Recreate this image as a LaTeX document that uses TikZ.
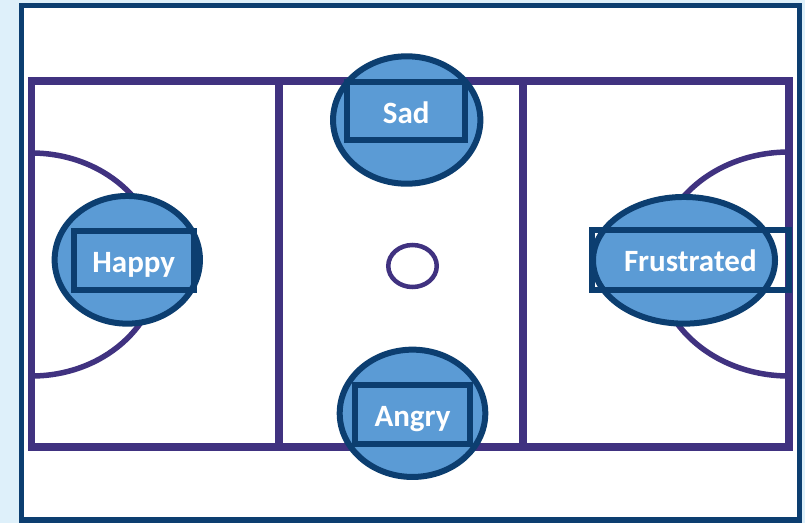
\documentclass[tikz,border=0pt]{standalone}
\usepackage{fontspec}
\setmainfont{Carlito}
\usetikzlibrary{shapes.geometric}
\definecolor{bgblue}{RGB}{222,240,250}
\definecolor{frameblue}{RGB}{12,62,112}
\definecolor{courtpurple}{RGB}{64,50,128}
\definecolor{fillblue}{RGB}{91,155,213}
\begin{document}
\begin{tikzpicture}[x=1pt,y=-1pt,
  frame/.style={draw=frameblue,line width=5.5pt},
  court/.style={draw=courtpurple,line width=7.5pt},
  arcline/.style={draw=courtpurple,line width=5.5pt},
  blob/.style={ellipse,draw=frameblue,fill=fillblue,line width=6pt,inner sep=0pt,outer sep=0pt},
  labelbox/.style={rectangle,draw=frameblue,line width=6pt,inner sep=0pt,outer sep=0pt,
    text=white,font=\fontsize{31}{31}\selectfont\bfseries,text height=24pt,text depth=0pt}]
\path[fill=bgblue] (0,0) rectangle (805,523);
\useasboundingbox (0,0) rectangle (805,523);
\draw[frame,fill=white] (21.5,5.5) rectangle (799.5,520);
% court
\draw[court] (31.5,81) rectangle (789,447);
\draw[court] (279,81) -- (279,447);
\draw[court] (523,81) -- (523,447);
\draw[arcline] (31.5,153) arc[start angle=90,end angle=-90,x radius=128pt,y radius=111.5pt];
\draw[arcline] (789,152) arc[start angle=90,end angle=270,x radius=132pt,y radius=112pt];
\node[ellipse,draw=courtpurple,line width=4.5pt,minimum width=48.5pt,minimum height=42pt,inner sep=0pt] (centre) at (412.5,266) {};
% emotions
\node[blob,minimum width=145.3pt,minimum height=127.7pt] (happyE) at (127.3,259.8) {};
\node[labelbox,minimum width=120pt,minimum height=59pt] (happy) at (133.7,260) {Happy};
\node[blob,minimum width=147.3pt,minimum height=127.4pt] (sadE) at (406.7,120) {};
\node[labelbox,minimum width=118.3pt,minimum height=57.4pt] (sad) at (406.2,111) {Sad};
\node[blob,minimum width=145.6pt,minimum height=127.3pt] (angryE) at (412.5,413.3) {};
\node[labelbox,minimum width=115.6pt,minimum height=59pt] (angry) at (412.5,414.2) {Angry};
\node[blob,minimum width=182pt,minimum height=126.7pt] (frusE) at (684,260.3) {};
\node[labelbox,minimum width=196.7pt,minimum height=60pt] (frus) at (690.3,259.7) {Frustrated};
\end{tikzpicture}
\end{document}
